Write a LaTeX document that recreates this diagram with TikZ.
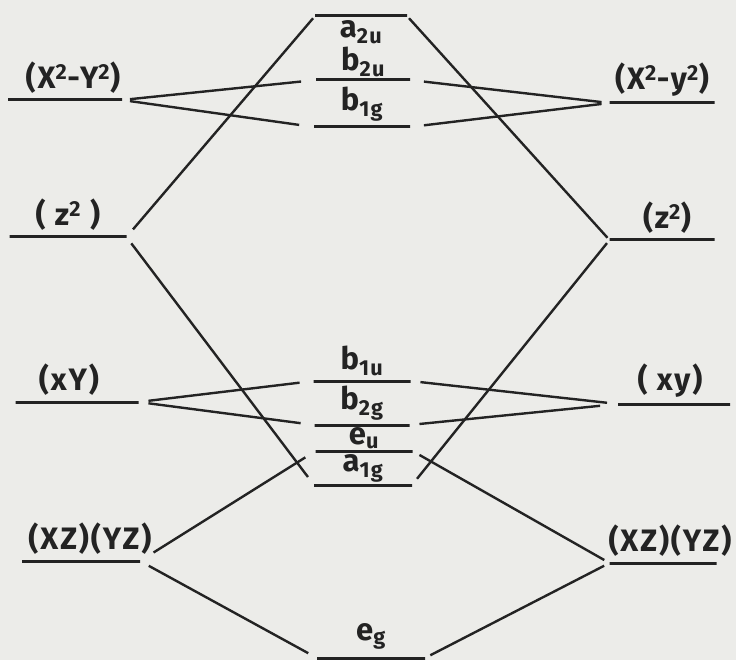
\documentclass[tikz,border=0pt]{standalone}
\usepackage{fontspec}
\setmainfont{Fira Sans}[LetterSpace=6]
\usetikzlibrary{positioning}
\definecolor{paper}{RGB}{236,236,233}
\definecolor{ink}{RGB}{35,35,35}

\begin{document}
\begin{tikzpicture}[x=1pt,y=-1pt,
  lvl/.style={draw=ink,line width=3pt,inner sep=0pt,outer sep=0pt,
              minimum height=0pt},
  txt/.style={inner sep=0pt,text=ink,font=\fontsize{31}{34}\selectfont\bfseries},
  con/.style={draw=ink,line width=2.4pt},
]
  \fill[paper] (0,0) rectangle (736,660);
  \useasboundingbox (0,0) rectangle (736,660);

  % Left d levels
  \node[lvl,minimum width=114pt] (lx2) at (65,100) {};
  \node[lvl,minimum width=117pt] (lz2) at (68,237) {};
  \node[lvl,minimum width=123pt] (lxy) at (77,402) {};
  \node[lvl,minimum width=118pt] (lxz) at (81,561) {};

  \node[txt,above=6pt of lx2,xshift=8pt] (tlx2) {(X\textsuperscript{2}-Y\textsuperscript{2})};
  \node[txt,above=6pt of lz2] (tlz2) {( z\textsuperscript{2} )};
  \node[txt,above=6pt of lxy,xshift=-8pt] (tlxy) {(xY)};
  \node[txt,above=6pt of lxz,xshift=9pt] (tlxz) {(XZ)(YZ)};

  % Right d levels
  \node[lvl,minimum width=105pt] (rx2) at (662,103) {};
  \node[lvl,minimum width=105pt] (rz2) at (662,240) {};
  \node[lvl,minimum width=112pt] (rxy) at (674,404) {};
  \node[lvl,minimum width=107pt] (rxz) at (663,563) {};

  \node[txt,above=6pt of rx2] (trx2) {(X\textsuperscript{2}-y\textsuperscript{2})};
  \node[txt,above=6pt of rz2,xshift=5pt] (trz2) {(z\textsuperscript{2})};
  \node[txt,above=6pt of rxy,xshift=-4pt] (trxy) {( xy)};
  \node[txt,above=6pt of rxz,xshift=7pt] (trxz) {(XZ)(YZ)};

  % Molecular levels
  \node[lvl,minimum width=92pt] (a2u) at (361,16) {};
  \node[lvl,minimum width=94pt] (b2u) at (363,80) {};
  \node[lvl,minimum width=96pt] (b1g) at (362,127) {};
  \node[lvl,minimum width=97pt] (b1u) at (362,381) {};
  \node[lvl,minimum width=95pt] (b2g) at (362,425) {};
  \node[lvl,minimum width=97pt] (eu)  at (364,451) {};
  \node[lvl,minimum width=98pt] (a1g) at (363,485) {};
  \node[lvl,minimum width=108pt] (eg) at (371,658) {};

  \node[txt,below=4pt of a2u] (ta2u) {a\textsubscript{2u}};
  \node[txt,above=3pt of b2u] (tb2u) {b\textsubscript{2u}};
  \node[txt,above=5pt of b1g] (tb1g) {b\textsubscript{1g}};
  \node[txt,above=5pt of b1u] (tb1u) {b\textsubscript{1u}};
  \node[txt,above=4pt of b2g] (tb2g) {b\textsubscript{2g}};
  \node[txt,above=2pt of eu]  (teu)  {e\textsubscript{u}};
  \node[txt,above=2pt of a1g] (ta1g) {a\textsubscript{1g}};
  \node[txt,above=8pt of eg]  (teg)  {e\textsubscript{g}};

  % Correlation lines
  \draw[con,shorten <=8pt,shorten >=15pt] (lx2.east) -- (b2u.west);
  \draw[con,shorten <=8pt,shorten >=15pt] (lx2.east) -- (b1g.west);
  \draw[con,shorten <=8pt,shorten >=14pt] (rx2.west) -- (b2u.east);
  \draw[con,shorten <=8pt,shorten >=14pt] (rx2.west) -- (b1g.east);

  \draw[con,shorten <=10pt,shorten >=3pt] (lz2.east) -- (a2u.west);
  \draw[con,shorten <=3pt,shorten >=3pt] (rz2.west) -- (a2u.east);
  \draw[con,shorten <=8pt,shorten >=10pt] (lz2.east) -- (a1g.west);
  \draw[con,shorten <=4pt,shorten >=8pt] (rz2.west) -- (a1g.east);

  \draw[con,shorten <=10pt,shorten >=14pt] (lxy.east) -- (b1u.west);
  \draw[con,shorten <=10pt,shorten >=14pt] (lxy.east) -- (b2g.west);
  \draw[con,shorten <=11pt,shorten >=10pt] (rxy.west) -- (b1u.east);
  \draw[con,shorten <=18pt,shorten >=10pt] (rxy.west) -- (b2g.east);

  \draw[con,shorten <=16pt,shorten >=12pt] (lxz.east) -- (eu.west);
  \draw[con,shorten <=10pt,shorten >=10pt] (lxz.east) -- (eg.west);
  \draw[con,shorten <=6pt,shorten >=8pt] (rxz.west) -- (eu.east);
  \draw[con,shorten <=6pt,shorten >=6pt] (rxz.west) -- (eg.east);
\end{tikzpicture}
\end{document}
